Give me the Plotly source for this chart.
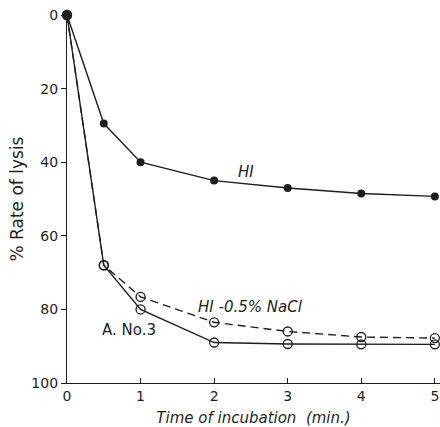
import plotly.graph_objects as go

time_min = [0, 0.5, 1, 2, 3, 4, 5]
hi = [0, 29.5, 40, 45, 47, 48.5, 49.3]
hi_nacl = [0, 68, 76.6, 83.5, 86, 87.5, 87.8]
a_no3 = [0, 68, 80, 89, 89.4, 89.5, 89.5]

x_ticks = [0, 1, 2, 3, 4, 5]
y_ticks = [0, 20, 40, 60, 80, 100]

ink = "#1e1e1e"
fnt = "DejaVu Sans"

fig = go.Figure()
fig.add_trace(go.Scatter(x=time_min, y=hi, mode="lines+markers",
                         line=dict(color=ink, width=1.4),
                         marker=dict(symbol="circle", size=8, color=ink),
                         cliponaxis=False, showlegend=False))
fig.add_trace(go.Scatter(x=time_min, y=hi_nacl, mode="lines+markers",
                         line=dict(color=ink, width=1.4, dash="8px,5px"),
                         marker=dict(symbol="circle-open", size=9, color=ink, line=dict(width=1.3)),
                         cliponaxis=False, showlegend=False))
fig.add_trace(go.Scatter(x=time_min, y=a_no3, mode="lines+markers",
                         line=dict(color=ink, width=1.4),
                         marker=dict(symbol="circle-open", size=9, color=ink, line=dict(width=1.3)),
                         cliponaxis=False, showlegend=False))

fig.add_annotation(x=2.43, y=42.7, text="<i>HI</i>", showarrow=False,
                   font=dict(family=fnt, size=15, color=ink))
fig.add_annotation(x=2.49, y=79.3, text="<i>HI -0.5% NaCl</i>", showarrow=False,
                   font=dict(family=fnt, size=15, color=ink))
fig.add_annotation(x=0.84, y=85.6, text="A. No.3", showarrow=False,
                   font=dict(family=fnt, size=15, color=ink))

fig.update_layout(
    width=440, height=427,
    margin=dict(l=67, r=0, t=15, b=44),
    paper_bgcolor="white", plot_bgcolor="white",
    font=dict(family=fnt, size=14, color=ink),
    xaxis=dict(range=[0, 5.07], tickvals=x_ticks, ticktext=[str(v) for v in x_ticks],
               ticks="inside", ticklen=5, tickcolor=ink, showline=True, linecolor=ink,
               linewidth=1.3, showgrid=False, zeroline=False, automargin=False,
               ticklabeloverflow="allow",
               tickfont=dict(family=fnt, size=14, color=ink),
               title=dict(text="<i>Time of incubation  (min.)</i>", standoff=12,
                          font=dict(family=fnt, size=15, color=ink))),
    yaxis=dict(range=[100, 0], tickvals=y_ticks, ticktext=[str(v) for v in y_ticks],
               ticks="outside", ticklen=5, tickcolor=ink, showline=True, linecolor=ink,
               linewidth=1.3, showgrid=False, zeroline=False, automargin=False,
               ticklabeloverflow="allow",
               tickfont=dict(family=fnt, size=14, color=ink),
               title=dict(text="% Rate of lysis", standoff=3,
                          font=dict(family=fnt, size=17, color=ink))),
)

fig.write_html("out.html", config={"displayModeBar": False},
               post_script="document.body.style.margin='0';document.body.style.overflow='hidden';")
